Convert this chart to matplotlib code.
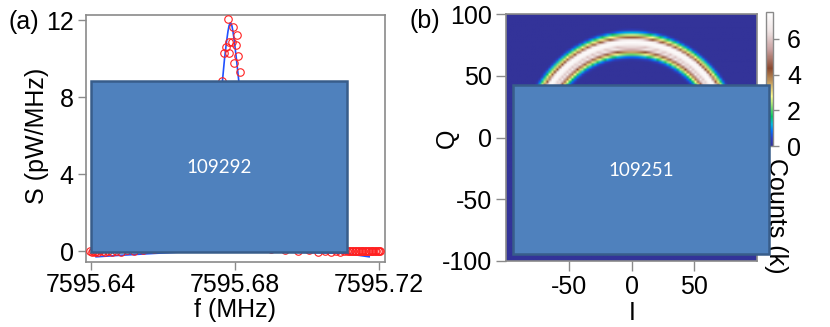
import numpy as np
import matplotlib
matplotlib.use('Agg')
import matplotlib.pyplot as plt
from matplotlib.patches import Rectangle
from matplotlib.colors import LinearSegmentedColormap

plt.rcParams['font.family'] = ['Liberation Sans', 'DejaVu Sans']
plt.rcParams['axes.unicode_minus'] = False

# ---------------- Panel (a) data ----------------
peak_f = [7595.6781, 7595.6794, 7595.6805, 7595.6784, 7595.6793, 7595.6775,
          7595.6802, 7595.6770, 7595.6783, 7595.6809, 7595.6798, 7595.6814,
          7595.6765, 7595.6760, 7595.6818, 7595.6755, 7595.6825, 7595.6748,
          7595.6832, 7595.6740, 7595.6840]
peak_S = [12.04, 11.65, 11.20, 10.87, 10.87, 10.60,
          10.68, 10.27, 10.30, 10.13, 9.78, 9.31,
          8.85, 7.2, 7.8, 5.0, 5.5, 2.5,
          2.2, 0.8, 0.9]
base_f = [7595.6398, 7595.6402, 7595.6406, 7595.6410, 7595.6415, 7595.6420,
          7595.6426, 7595.6432, 7595.6440, 7595.6448, 7595.6458, 7595.6470,
          7595.6484, 7595.6500, 7595.6520, 7595.6545, 7595.6575, 7595.6610,
          7595.6650, 7595.6690, 7595.6720,
          7595.6860, 7595.6900, 7595.6940, 7595.6975, 7595.7005, 7595.7030,
          7595.7050, 7595.7066, 7595.7080, 7595.7092, 7595.7102, 7595.7110,
          7595.7116, 7595.7121, 7595.7125, 7595.7129, 7595.7133, 7595.7137,
          7595.7141, 7595.7145, 7595.7149, 7595.7153, 7595.7157, 7595.7161,
          7595.7165, 7595.7169, 7595.7173, 7595.7177, 7595.7181, 7595.7185,
          7595.7189, 7595.7193, 7595.7197, 7595.7200, 7595.7203]
base_S = [0.02, -0.03, 0.01, -0.05, 0.00, -0.04,
          0.03, -0.02, -0.06, 0.01, -0.04, 0.02,
          -0.03, 0.05, -0.02, 0.04, 0.10, 0.15,
          0.20, 0.30, 0.35,
          0.30, 0.12, 0.05, -0.02, 0.03, -0.05,
          0.01, -0.04, 0.02, -0.03, 0.00, 0.02,
          -0.02, 0.01, -0.01, 0.02, 0.00, -0.02,
          0.01, 0.02, -0.01, 0.00, 0.02, -0.02,
          0.01, 0.00, 0.02, -0.01, 0.01, 0.00,
          0.02, -0.01, 0.01, 0.00, 0.01]
fit_f = [7595.6414, 7595.6483, 7595.6580, 7595.6650, 7595.6700, 7595.67278,
         7595.67444, 7595.67556, 7595.67653, 7595.67708, 7595.67764, 7595.67805,
         7595.67835, 7595.67860, 7595.67875, 7595.67890, 7595.67915, 7595.67945,
         7595.67986, 7595.68042, 7595.68111, 7595.68194,
         7595.68306, 7595.68472, 7595.6875, 7595.6925, 7595.7000, 7595.71056,
         7595.7173]
fit_S = [-0.30, -0.22, -0.12, -0.05, 0.5, 2.0,
         4.5, 7.0, 8.85, 9.95, 10.85, 11.40,
         11.70, 11.82, 11.85, 11.82, 11.70, 11.40,
         10.85, 9.95, 8.75, 7.0,
         4.5, 2.0, 0.5, -0.05, -0.08, -0.12,
         -0.30]
xticks_a = [7595.64, 7595.68, 7595.72]
xticklabels_a = ['7595.64', '7595.68', '7595.72']
yticks_a = [0, 4, 8, 12]

# ---------------- Panel (b) data ----------------
ring_r = [0, 61.5, 63, 64.5, 66, 67.5, 69, 70.5, 72, 73.8, 75.5, 77, 78.5, 79.5,
          80.5, 82, 83.5, 85, 86.5, 88, 150]
ring_counts = [0, 0, 0.1, 0.5, 1.3, 2.4, 3.5, 5.0, 6.6, 5.9, 7.0, 7.3, 7.2, 6.3,
               4.6, 3.2, 2.2, 1.2, 0.4, 0, 0]
ticks_b_x = [-50, 0, 50]
ticks_b_y = [-100, -50, 0, 50, 100]
cbar_ticks = [0, 2, 4, 6]
cbar_max = 7.5

box_labels = ['109292', '109251']

# ---------------- figure ----------------
W, H = 830, 327
fig = plt.figure(figsize=(W / 100, H / 100), dpi=100)

def fx(px):
    return px / W

def fy(py):
    return 1 - py / H

gray = '#8a8a8a'
FS = 18

# Panel (a)
axa = fig.add_axes([fx(86), fy(262), fx(385) - fx(86), fy(15) - fy(262)])
axa.plot(fit_f, fit_S, color='#2050ff', lw=1.2, zorder=2)
axa.plot(base_f + peak_f, base_S + peak_S, 'o', mfc='none', mec='#ff2020',
         ms=5.4, mew=0.8, zorder=3, clip_on=False)
axa.set_xlim(7595.6386, 7595.7217)
axa.set_ylim(-0.57, 12.26)
axa.set_xticks(xticks_a)
axa.set_xticklabels(xticklabels_a)
axa.set_yticks(yticks_a)
for sp in axa.spines.values():
    sp.set_color(gray)
    sp.set_linewidth(1.2)
axa.tick_params(axis='both', colors=gray, labelcolor='black', labelsize=FS,
                length=6, width=1.0, direction='out')
axa.tick_params(axis='y', pad=3)
axa.tick_params(axis='x', pad=2)

fig.text(fx(37), fy(136), 'S (pW/MHz)', rotation=90, ha='center', va='center', fontsize=FS)
fig.text(fx(235), fy(310), 'f (MHz)', ha='center', va='center', fontsize=FS)
fig.text(fx(24), fy(22), '(a)', ha='center', va='center', fontsize=FS)

# Panel (b)
cmap = LinearSegmentedColormap.from_list('ring', [
    (0.00, '#333399'), (0.06, '#2a40c8'), (0.11, '#0070ff'), (0.16, '#00b8e0'),
    (0.22, '#00c860'), (0.30, '#90e070'), (0.37, '#ffff90'), (0.47, '#c8a060'),
    (0.58, '#8b4a30'), (0.72, '#c8a0a0'), (0.86, '#f0e6e6'), (1.00, '#ffffff')])

centers = np.linspace(-99, 99, 100)
II, QQ = np.meshgrid(centers, centers)
RR = np.hypot(II, QQ)
img = np.interp(RR, ring_r, ring_counts)

axb = fig.add_axes([fx(506), fy(261), fx(757) - fx(506), fy(14) - fy(261)])
im = axb.imshow(img, origin='lower', extent=[-100, 100, -100, 100], cmap=cmap,
                vmin=0, vmax=cbar_max, aspect='auto', interpolation='bilinear')
axb.set_xticks(ticks_b_x)
axb.set_yticks(ticks_b_y)
for sp in axb.spines.values():
    sp.set_color(gray)
    sp.set_linewidth(1.2)
axb.tick_params(axis='both', colors=gray, labelcolor='black', labelsize=FS,
                length=7, width=1.0, direction='out')
axb.tick_params(axis='y', pad=3)
axb.tick_params(axis='x', pad=3)
fig.text(fx(447), fy(138), 'Q', rotation=90, ha='center', va='center', fontsize=FS)
fig.text(fx(632), fy(313), 'I', ha='center', va='center', fontsize=FS)
fig.text(fx(425), fy(21), '(b)', ha='center', va='center', fontsize=FS)

cax = fig.add_axes([fx(766), fy(146), fx(773) - fx(766), fy(12) - fy(146)])
cb = fig.colorbar(im, cax=cax, ticks=cbar_ticks)
cb.outline.set_edgecolor(gray)
cb.outline.set_linewidth(1.0)
cax.tick_params(colors=gray, labelcolor='black', labelsize=FS, length=4, width=1.0, pad=6)
fig.text(fx(776), fy(216), 'Counts (k)', rotation=-90, ha='center', va='center',
         fontsize=FS, zorder=2)

# Overlay boxes
boxes = [(91, 81, 347, 252), (513, 85, 769, 254)]
for (x0, y0, x1, y1), lab in zip(boxes, box_labels):
    r = Rectangle((fx(x0), fy(y1)), fx(x1) - fx(x0), fy(y0) - fy(y1),
                  transform=fig.transFigure, facecolor='#4f81bd', edgecolor='#385d8a',
                  linewidth=1.8, zorder=10)
    fig.add_artist(r)
    fig.text(fx((x0 + x1) / 2), fy((y0 + y1) / 2 + 1), lab, ha='center', va='center',
             color='white', fontsize=13.5, family=['Lato', 'DejaVu Sans'], zorder=11)

fig.savefig('out.png', dpi=100)
